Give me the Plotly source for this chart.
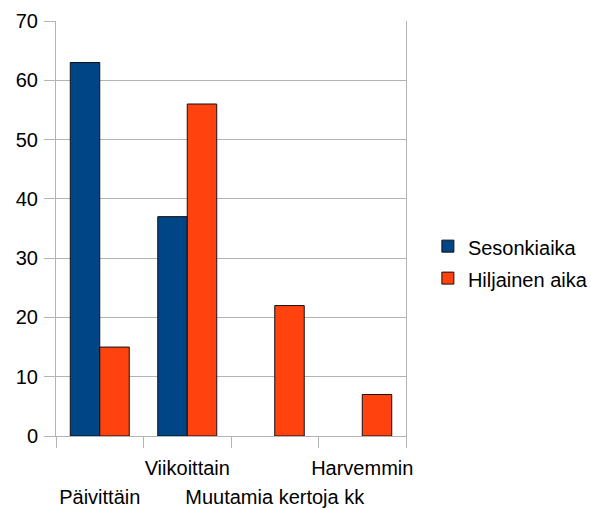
import plotly.graph_objects as go

categories = ["Päivittäin", "Viikoittain", "Muutamia kertoja kk", "Harvemmin"]
sesonkiaika = [63, 37, None, None]
hiljainen_aika = [15, 56, 22, 7]
series_names = ["Sesonkiaika", "Hiljainen aika"]
y_ticks = [0, 10, 20, 30, 40, 50, 60, 70]

FONT = "Liberation Sans"
GRID = "#b3b3b3"
LABEL_SIZE = 20


def sized(text):
    return f'<span style="font-size:{LABEL_SIZE}px">{text}</span>'


# staggered category labels: every other one drops to a second row
tick_text = [("<br>" + sized(c)) if i % 2 == 0 else sized(c)
             for i, c in enumerate(categories)]

fig = go.Figure()
fig.add_trace(go.Bar(
    name=sized(series_names[0]), x=categories, y=sesonkiaika,
    marker=dict(color="#004586", line=dict(color="#111111", width=1)),
))
fig.add_trace(go.Bar(
    name=sized(series_names[1]), x=categories, y=hiljainen_aika,
    marker=dict(color="#ff420e", line=dict(color="#111111", width=1)),
))

fig.update_layout(
    width=591, height=509,
    margin=dict(l=56, r=185, t=21, b=73, autoexpand=False),
    paper_bgcolor="white", plot_bgcolor="white",
    font=dict(family=FONT, color="black", size=LABEL_SIZE),
    barmode="group", bargap=0.326, bargroupgap=0,
    showlegend=True,
    legend=dict(
        xref="container", yref="container",
        x=0.724, y=0.485, xanchor="left", yanchor="middle",
        font=dict(family=FONT, size=22.3, color="black"),
        bgcolor="rgba(0,0,0,0)", tracegroupgap=0,
    ),
    xaxis=dict(
        type="category", tickmode="array",
        tickvals=categories, ticktext=tick_text,
        tickson="boundaries", ticks="outside", ticklen=11,
        tickcolor=GRID, tickwidth=1, tickangle=0,
        showline=True, linecolor=GRID, linewidth=1,
        showgrid=False, zeroline=False, automargin=False,
        tickfont=dict(family=FONT, size=22.3, color="black"),
        ticklabelstandoff=11,
    ),
    yaxis=dict(
        range=[0, 70], tickmode="array", tickvals=y_ticks,
        ticks="outside", ticklen=11, tickcolor=GRID, tickwidth=1,
        showline=True, linecolor=GRID, linewidth=1, mirror=True,
        showgrid=True, gridcolor=GRID, gridwidth=1,
        zeroline=False, automargin=False,
        tickfont=dict(family=FONT, size=LABEL_SIZE, color="black"),
        ticklabelstandoff=2,
    ),
)

fig.write_html("out.html")
